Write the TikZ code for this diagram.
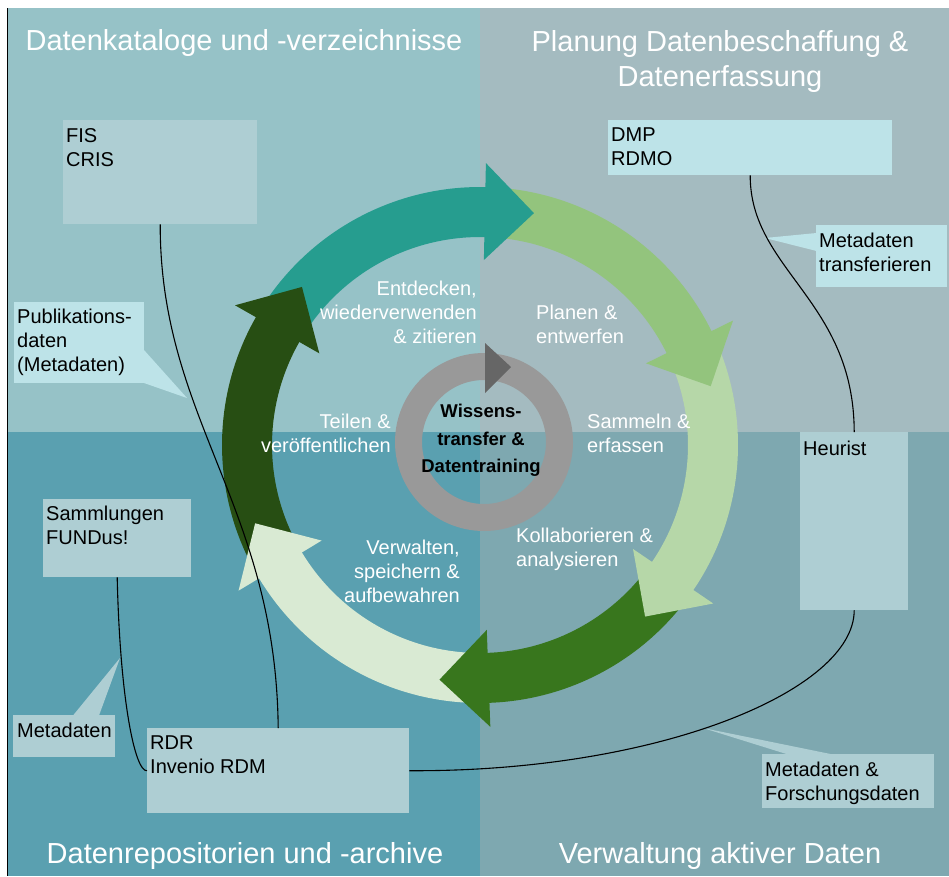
\documentclass[tikz,border=0pt]{standalone}
\usepackage{fontspec}
\setmainfont{Liberation Sans}
\definecolor{bgTL}{RGB}{150,194,199}
\definecolor{bgTR}{RGB}{164,187,192}
\definecolor{bgBL}{RGB}{90,160,176}
\definecolor{bgBR}{RGB}{126,168,176}
\definecolor{boxA}{RGB}{174,206,211}
\definecolor{boxB}{RGB}{189,227,232}
\definecolor{cTeal}{RGB}{38,157,143}
\definecolor{cGa}{HTML}{93C47D}
\definecolor{cGb}{HTML}{B6D7A8}
\definecolor{cGc}{HTML}{38761D}
\definecolor{cGd}{HTML}{D9EAD3}
\definecolor{cGe}{HTML}{274E13}
\definecolor{ringgray}{HTML}{999999}
\definecolor{headgray}{HTML}{666666}
\newcommand\ringbody[3]{\fill[#1] (#2:258) arc[start angle=#2, end angle=#3, radius=258] -- (#3:208) arc[start angle=#3, end angle=#2, radius=208] -- cycle;}
\newcommand\ringhead[2]{\fill[#1] (#2:282) -- (#2:185) -- ({#2-11.9}:238.1) -- cycle;}
\tikzset{
  lbl/.style={text=white, font=\fontsize{20}{24}\selectfont, inner sep=0pt},
  btxt/.style={text=black, font=\fontsize{20}{24}\selectfont, inner sep=0pt, align=left, anchor=north west},
  ttl/.style={text=white, font=\fontsize{29}{35}\selectfont, inner sep=0pt, align=center, anchor=north},
  ctr/.style={text=black, font=\bfseries\fontsize{18.5}{27.5}\selectfont, inner sep=0pt, align=center, anchor=north},
  boxa/.style={rectangle, fill=boxA, draw=none, inner sep=0pt, anchor=north west},
  boxb/.style={rectangle, fill=boxB, draw=none, inner sep=0pt, anchor=north west},
  conn/.style={draw=black, line width=1.1pt}
}
\begin{document}
\begin{tikzpicture}[x=1pt, y=-1pt]
\useasboundingbox (0,0) rectangle (949,876);
\fill[white] (0,0) rectangle (949,876);
% quadrants
\fill[bgTL] (8,8) rectangle (480,432);
\fill[bgTR] (480,8) rectangle (949,432);
\fill[bgBL] (8,432) rectangle (480,876);
\fill[bgBR] (480,432) rectangle (949,876);
\draw[black, line width=1.5pt] (7.5,8) -- (7.5,876);

% cycle of arrows
\begin{scope}[shift={(480,445)}, yscale=-1]
  \ringbody{cTeal}{146.3}{88.3}
  \ringbody{cGa}{84.8}{25.7}
  \ringbody{cGb}{22.2}{-34.7}
  \ringbody{cGc}{-38.2}{-88.4}
  \ringbody{cGd}{-91.9}{-149.4}
  \ringbody{cGe}{207.1}{149.8}
  \ringhead{cTeal}{88.8}
  \ringhead{cGa}{26.2}
  \ringhead{cGb}{-34.2}
  \ringhead{cGc}{-87.9}
  \ringhead{cGd}{-148.9}
  \ringhead{cGe}{150.3}
\end{scope}

% inner gray ring
\fill[ringgray, even odd rule] (484,442) circle[radius=89] (484,442) circle[radius=62];
\fill[headgray] (485,343) -- (511,367) -- (485,393) -- cycle;

% titles
\node[ttl] (t1) at (244,29) {Datenkataloge und -verzeichnisse};
\node[ttl] (t2) at (720,30) {Planung Datenbeschaffung \&\\Datenerfassung};
\node[ttl] (t3) at (245,842) {Datenrepositorien und -archive};
\node[ttl] (t4) at (720,842) {Verwaltung aktiver Daten};

% ring labels
\node[lbl, anchor=north east, align=right] (l1) at (477,281) {Entdecken,\\wiederverwenden\\\& zitieren};
\node[lbl, anchor=north west, align=left] (l2) at (536,305) {Planen \&\\entwerfen};
\node[lbl, anchor=north west, align=left] (l3) at (587,414) {Sammeln \&\\erfassen};
\node[lbl, anchor=north west, align=left] (l4) at (516,528) {Kollaborieren \&\\analysieren};
\node[lbl, anchor=north east, align=right] (l5) at (460,540) {Verwalten,\\speichern \&\\aufbewahren};
\node[lbl, anchor=north east, align=right] (l6) at (391,414) {Teilen \&\\veröffentlichen};
\node[ctr] (c) at (481,404) {Wissens-\\transfer \&\\Datentraining};

% boxes
\node[boxa, minimum width=194, minimum height=104] (fis) at (63,120) {};
\node[boxb, minimum width=130, minimum height=81] (pub) at (14,302) {};
\node[boxb, minimum width=284, minimum height=55] (dmp) at (608,120) {};
\node[boxb, minimum width=131, minimum height=62] (mtr) at (816,225) {};
\node[boxa, minimum width=108, minimum height=178] (heu) at (800,432) {};
\node[boxa, minimum width=148, minimum height=78] (sam) at (43,499) {};
\node[boxa, minimum width=102, minimum height=42] (mbl) at (13,715) {};
\node[boxa, minimum width=262, minimum height=85] (rdr) at (147,728) {};
\node[boxa, minimum width=172, minimum height=54] (mfd) at (762,754) {};

% callout pointers
\coordinate (pubtip) at (187,398);
\coordinate (mtrtip) at (765,238);
\coordinate (mbltip) at (120,658);
\coordinate (mfdtip) at (703,728);
\fill[boxB] (144,350) -- (pubtip) -- (144,383) -- cycle;
\fill[boxB] (816.5,233) -- (mtrtip) -- (816.5,251) -- cycle;
\fill[boxA] (73,715.5) -- (mbltip) -- (99,715.5) -- cycle;
\fill[boxA] (788,754.5) -- (mfdtip) -- (833,754.5) -- cycle;

% connectors
\draw[conn] (fis.south) .. controls (160,420) and (276,505) .. (rdr.north);
\draw[conn] (dmp.south) .. controls (750,270) and (854,300) .. (heu.north);
\draw[conn] (heu.south) .. controls (854,690) and (660,772) .. (rdr.east);
\draw[conn] (sam.south) .. controls (120,700) and (135,772) .. (rdr.west);

% box texts
\node[btxt] (fist) at (66,128) {FIS\\CRIS};
\node[btxt] (pubt) at (17,309) {Publikations-\\daten\\(Metadaten)};
\node[btxt] (dmpt) at (611,128) {DMP\\RDMO};
\node[btxt] (mtrt) at (819,233) {Metadaten\\transferieren};
\node[btxt] (heut) at (803,441) {Heurist};
\node[btxt] (samt) at (46,506) {Sammlungen\\FUNDus!};
\node[btxt] (mblt) at (17,723) {Metadaten};
\node[btxt] (rdrt) at (150,736) {RDR\\Invenio RDM};
\node[btxt] (mfdt) at (765,762) {Metadaten \&\\Forschungsdaten};
\end{tikzpicture}
\end{document}
